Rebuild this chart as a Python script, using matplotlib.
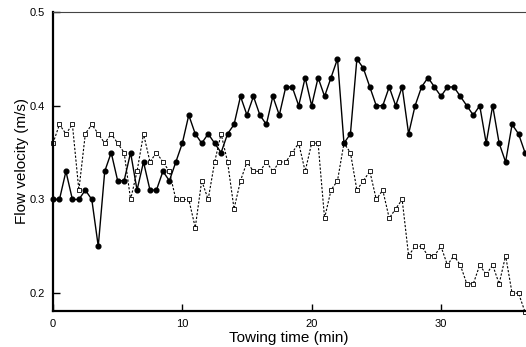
import matplotlib
matplotlib.use("Agg")
import matplotlib.pyplot as plt

times = [0.0, 0.5, 1.0, 1.5, 2.0, 2.5, 3.0, 3.5, 4.0, 4.5, 5.0, 5.5, 6.0, 6.5, 7.0, 7.5,
         8.0, 8.5, 9.0, 9.5, 10.0, 10.5, 11.0, 11.5, 12.0, 12.5, 13.0, 13.5, 14.0, 14.5,
         15.0, 15.5, 16.0, 16.5, 17.0, 17.5, 18.0, 18.5, 19.0, 19.5, 20.0, 20.5, 21.0,
         21.5, 22.0, 22.5, 23.0, 23.5, 24.0, 24.5, 25.0, 25.5, 26.0, 26.5, 27.0, 27.5,
         28.0, 28.5, 29.0, 29.5, 30.0, 30.5, 31.0, 31.5, 32.0, 32.5, 33.0, 33.5, 34.0,
         34.5, 35.0, 35.5, 36.0, 36.5]

filled_series = [0.30, 0.30, 0.33, 0.30, 0.30, 0.31, 0.30, 0.25, 0.33, 0.35, 0.32, 0.32,
                 0.35, 0.31, 0.34, 0.31, 0.31, 0.33, 0.32, 0.34, 0.36, 0.39, 0.37,
                 0.36, 0.37, 0.36, 0.35, 0.37, 0.38, 0.41, 0.39, 0.41, 0.39, 0.38, 0.41,
                 0.39, 0.42, 0.42, 0.40, 0.43, 0.40, 0.43, 0.41, 0.43, 0.45, 0.36, 0.37,
                 0.45, 0.44, 0.42, 0.40, 0.40, 0.42, 0.40, 0.42, 0.37, 0.40, 0.42, 0.43,
                 0.42, 0.41, 0.42, 0.42, 0.41, 0.40, 0.39, 0.40, 0.36, 0.40, 0.36, 0.34,
                 0.38, 0.37, 0.35]

open_series = [0.36, 0.38, 0.37, 0.38, 0.31, 0.37, 0.38, 0.37, 0.36, 0.37, 0.36, 0.35,
               0.30, 0.33, 0.37, 0.34, 0.35, 0.34, 0.33, 0.30, 0.30, 0.30, 0.27,
               0.32, 0.30, 0.34, 0.37, 0.34, 0.29, 0.32, 0.34, 0.33, 0.33, 0.34, 0.33,
               0.34, 0.34, 0.35, 0.36, 0.33, 0.36, 0.36, 0.28, 0.31, 0.32, 0.36, 0.35,
               0.31, 0.32, 0.33, 0.30, 0.31, 0.28, 0.29, 0.30, 0.24, 0.25, 0.25, 0.24,
               0.24, 0.25, 0.23, 0.24, 0.23, 0.21, 0.21, 0.23, 0.22, 0.23, 0.21, 0.24,
               0.20, 0.20, 0.18]

x_ticks = [0, 10, 20, 30]
y_ticks = [0.2, 0.3, 0.4, 0.5]
y_tick_labels = ["0.2", "0.3", "0.4", "0.5"]

plt.rcParams['font.family'] = ['Liberation Sans', 'DejaVu Sans']

fig = plt.figure(figsize=(5.26, 3.47), dpi=100)
ax = fig.add_axes([53/526, 36/347, 472/526, 299/347])

ax.plot(times, open_series, linestyle=(0, (2, 1.5)), color='black', linewidth=0.8,
        marker='s', markersize=2.9, markerfacecolor='white', markeredgecolor='black',
        markeredgewidth=0.6, clip_on=False, zorder=2)
ax.plot(times, filled_series, linestyle='-', color='black', linewidth=1.0,
        marker='o', markersize=3.4, markerfacecolor='black', markeredgecolor='black',
        clip_on=False, zorder=3)

ax.set_xlim(0, 36.5)
ax.set_ylim(0.181, 0.5)
ax.set_xticks(x_ticks)
ax.set_yticks(y_ticks)
ax.set_yticklabels(y_tick_labels)
ax.tick_params(direction='in', length=5, width=1, labelsize=8, pad=6)

for side in ['left', 'bottom']:
    ax.spines[side].set_linewidth(1.6)
ax.spines['top'].set_linewidth(0.8)
ax.spines['top'].set_color('#444444')
ax.spines['right'].set_visible(False)

ax.set_xlabel("Towing time (min)", fontsize=11, labelpad=1)
ax.set_ylabel("Flow velocity (m/s)", fontsize=11, labelpad=0.5)

fig.savefig("out.png", dpi=100)
